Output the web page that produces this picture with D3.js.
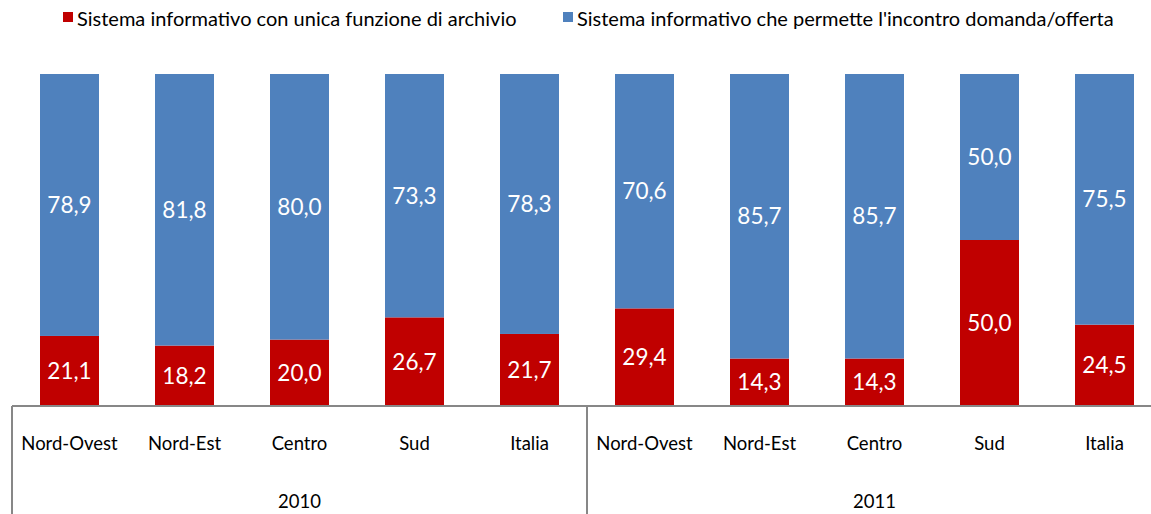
<!DOCTYPE html>
<html>
<head>
<meta charset="utf-8">
<script src="https://cdn.jsdelivr.net/npm/d3@7"></script>
<style>
  body { margin: 0; background: #fff; }
  svg { display: block; font-family: Lato, "Open Sans", sans-serif; }
</style>
</head>
<body>
<div id="chart"></div>
<script>
const years = ['2010', '2011'];
const regions = ['Nord-Ovest', 'Nord-Est', 'Centro', 'Sud', 'Italia'];
const archivio = [21.1, 18.2, 20.0, 26.7, 21.7, 29.4, 14.3, 14.3, 50.0, 24.5];
const incontro = [78.9, 81.8, 80.0, 73.3, 78.3, 70.6, 85.7, 85.7, 50.0, 75.5];
const seriesNames = [
    'Sistema informativo con unica funzione di archivio',
    "Sistema informativo che permette l'incontro domanda/offerta"
];
const colors = ['#C00000', '#4F81BD'];

const width = 1151, height = 514;
const margin = { top: 74, left: 12, bottom: 406 };
const catW = 115;

const rows = [];
years.forEach((y, yi) => regions.forEach((r, ri) => {
    const i = yi * regions.length + ri;
    rows.push({ key: y + '|' + r, year: y, region: r, archivio: archivio[i], incontro: incontro[i] });
}));

const svg = d3.select('#chart').append('svg')
    .attr('width', width).attr('height', height);

const x = d3.scaleBand()
    .domain(rows.map(d => d.key))
    .range([margin.left, margin.left + catW * rows.length])
    .paddingInner(0.487).paddingOuter(0.2435);

const y = d3.scaleLinear().domain([0, 100]).range([margin.bottom, margin.top]);

const stack = d3.stack().keys(['archivio', 'incontro'])(rows);

const layers = svg.selectAll('.layer')
    .data(stack)
    .enter().append('g')
    .attr('fill', (d, i) => colors[i]);

layers.selectAll('rect')
    .data(d => d)
    .enter().append('rect')
    .attr('x', d => x(d.data.key))
    .attr('width', x.bandwidth())
    .attr('y', d => y(d[1]))
    .attr('height', d => y(d[0]) - y(d[1]));

layers.selectAll('text')
    .data(d => d)
    .enter().append('text')
    .attr('x', d => x(d.data.key) + x.bandwidth() / 2)
    .attr('y', d => (y(d[0]) + y(d[1])) / 2)
    .attr('dy', '0.36em')
    .attr('text-anchor', 'middle')
    .attr('fill', '#fff')
    .attr('font-size', '22.5px')
    .text(d => d3.format('.1f')(d[1] - d[0]).replace('.', ','));

// category axis with grouping
const axisColor = '#878787';
const axisRight = margin.left + catW * rows.length;
svg.append('line')
    .attr('x1', margin.left).attr('x2', axisRight)
    .attr('y1', margin.bottom).attr('y2', margin.bottom)
    .attr('stroke', axisColor).attr('stroke-width', 2);

years.forEach((yr, yi) => {
    const x0 = margin.left + yi * regions.length * catW;
    svg.append('line')
        .attr('x1', x0).attr('x2', x0)
        .attr('y1', margin.bottom).attr('y2', height)
        .attr('stroke', axisColor).attr('stroke-width', 2);
    svg.append('text')
        .attr('x', x0 + regions.length * catW / 2)
        .attr('y', 501)
        .attr('dy', '0.36em')
        .attr('text-anchor', 'middle')
        .attr('font-size', '18.5px')
        .attr('fill', '#000')
        .text(yr);
});

svg.selectAll('.cat')
    .data(rows)
    .enter().append('text')
    .attr('class', 'cat')
    .attr('x', d => x(d.key) + x.bandwidth() / 2)
    .attr('y', 443)
    .attr('dy', '0.36em')
    .attr('text-anchor', 'middle')
    .attr('font-size', '18.5px')
    .attr('fill', '#000')
    .text(d => d.region);

// legend
const legendX = [63, 563];
const legend = svg.selectAll('.legend')
    .data(seriesNames)
    .enter().append('g')
    .attr('transform', (d, i) => `translate(${legendX[i]}, 12)`);

legend.append('rect')
    .attr('width', 10).attr('height', 10)
    .attr('fill', (d, i) => colors[i]);

legend.append('text')
    .attr('x', 14).attr('y', 7)
    .attr('dy', '0.36em')
    .attr('font-size', '20px')
    .attr('fill', '#000')
    .text(d => d);
</script>
</body>
</html>
